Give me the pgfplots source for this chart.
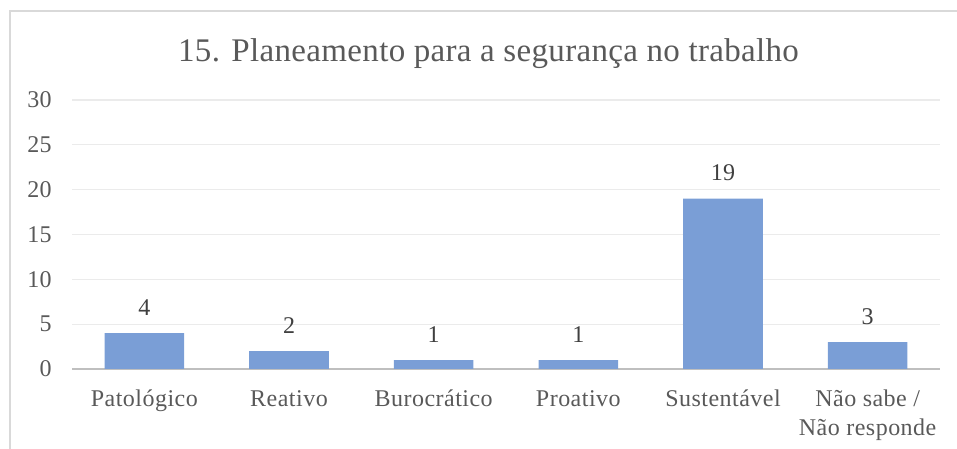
\documentclass[border=0pt]{standalone}
\usepackage{pgfplots}
\pgfplotsset{compat=1.18}
\usepackage{fontspec}
\setmainfont{Liberation Serif}
\newfontfamily\titlefont[LetterSpace=1.0]{Liberation Serif}
\newfontfamily\labelfont[LetterSpace=2]{Liberation Serif}
\definecolor{txt}{HTML}{595959}
\definecolor{dlab}{HTML}{404040}
\definecolor{gridc}{HTML}{EBEBEB}
\definecolor{axl}{HTML}{BFBFBF}
\definecolor{barc}{RGB}{122,158,214}
\definecolor{framec}{HTML}{D9D9D9}
\begin{document}
\begin{tikzpicture}
\path[use as bounding box] (0,0) rectangle (717.75pt,336.75pt);
\draw[framec, line width=1pt] (7.5pt,-1pt) -- (7.5pt,328.5pt) -- (719pt,328.5pt);
\node[font=\titlefont\fontsize{24.75pt}{30pt}\selectfont, text=txt, anchor=base] at (366.4pt,290.25pt) {15. Planeamento para a segurança no trabalho};
\begin{axis}[
  at={(54pt,60pt)}, anchor=south west,
  width=651pt, height=201.75pt, scale only axis,
  /pgf/number format/assume math mode=true,
  ybar, bar width=0.55,
  xmin=-0.5, xmax=5.5, ymin=0, ymax=30,
  ytick={0,5,10,15,20,25,30},
  xtick={0,1,2,3,4,5},
  xticklabels={Patológico, Reativo, Burocrático, Proativo, Sustentável, {Não sabe /\\Não responde}},
  axis x line=bottom, axis y line=left,
  x axis line style={axl, line width=1.5pt, -},
  y axis line style={draw=none},
  major tick length=0pt,
  tick style={draw=none},
  ymajorgrids, grid style={gridc, line width=0.9pt},
  yticklabel style={font=\labelfont\fontsize{18pt}{21.75pt}\selectfont, text=txt, inner sep=0pt, anchor=east, xshift=-15pt},
  xticklabel style={font=\labelfont\fontsize{18pt}{21.75pt}\selectfont, text=txt, inner sep=0pt, anchor=north, align=center, yshift=-15.75pt},
  nodes near coords,
  every node near coord/.append style={font=\labelfont\fontsize{18pt}{21.75pt}\selectfont, text=dlab, anchor=south, inner sep=0pt, yshift=13pt},
  clip=false,
]
\addplot[fill=barc, draw=none] coordinates {(0,4) (1,2) (2,1) (3,1) (4,19) (5,3)};
\end{axis}
\end{tikzpicture}
\end{document}
